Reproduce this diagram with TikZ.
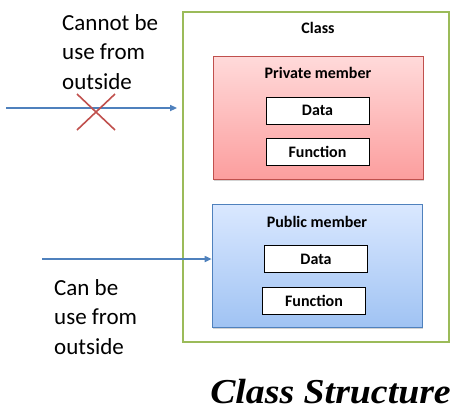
\documentclass[tikz,border=0pt]{standalone}
\usepackage{fontspec}
\setmainfont{Carlito}
\newfontfamily\titlefont{Liberation Serif}
\usetikzlibrary{arrows.meta,positioning,shadows}
\definecolor{clsgreen}{RGB}{155,187,89}
\definecolor{privred}{RGB}{192,80,77}
\definecolor{pubblue}{RGB}{79,129,189}
\definecolor{privtop}{RGB}{255,218,218}
\definecolor{privbot}{RGB}{252,158,158}
\definecolor{pubtop}{RGB}{218,232,255}
\definecolor{pubbot}{RGB}{160,195,243}

\begin{document}
\begin{tikzpicture}[x=1pt, y=-1pt,
  every node/.style={font=\fontsize{16}{18}\selectfont\bfseries, inner sep=0pt},
  member/.style={draw=#1, line width=0.6pt, minimum width=210pt, minimum height=123pt,
    drop shadow={opacity=0.35, shadow xshift=1pt, shadow yshift=-1.5pt}},
  item/.style={draw, fill=white, line width=0.8pt, minimum width=103pt, minimum height=27pt},
  side/.style={font=\fontsize{23}{29.5}\selectfont, align=left, anchor=north west},
  access/.style={pubblue, line width=1.6pt, -{Triangle[length=7pt, width=6pt]}}]
\useasboundingbox (0,0) rectangle (474,416);
% ---- the class and its two parts
\node[draw=clsgreen, line width=1.8pt, minimum width=266pt, minimum height=330pt] (cls) at (316,177) {};
\node (clsname) at (318,28) {Class};
\node[member=privred, top color=privtop, bottom color=privbot] (priv) at (318,117.5) {};
\node (privname) at (318,73) {Private member};
\node[item] (privdata) at (317.5,110.5) {Data};
\node[item] (privfunc) at (317.5,152) {Function};
\node[member=pubblue, top color=pubtop, bottom color=pubbot] (pub) at (317,265.5) {};
\node (pubname) at (317,222) {Public member};
\node[item] (pubdata) at (316,259) {Data};
\node[item] (pubfunc) at (314,300.5) {Function};
% ---- left: access from outside
\node[side] (nouse) at (62,14) {Cannot be\\ use from\\ outside};
\coordinate (privin) at (6,108);
\draw[access] (privin) -- ([xshift=-5pt]privin -| cls.west);
\draw[privred, line width=1.6pt] (77,94) -- (115,130) (77,130) -- (115,94);
\node[side] (canuse) at (54,279) {Can be\\ use from\\ outside};
\coordinate (pubin) at (42,259);
\draw[access] (pubin) -- (pubin -| pub.west);
% ---- title
\node[font=\titlefont\fontsize{35}{38}\selectfont\bfseries\itshape, xscale=1.08, anchor=east] (title) at (451,392) {Class Structure};
\end{tikzpicture}
\end{document}
